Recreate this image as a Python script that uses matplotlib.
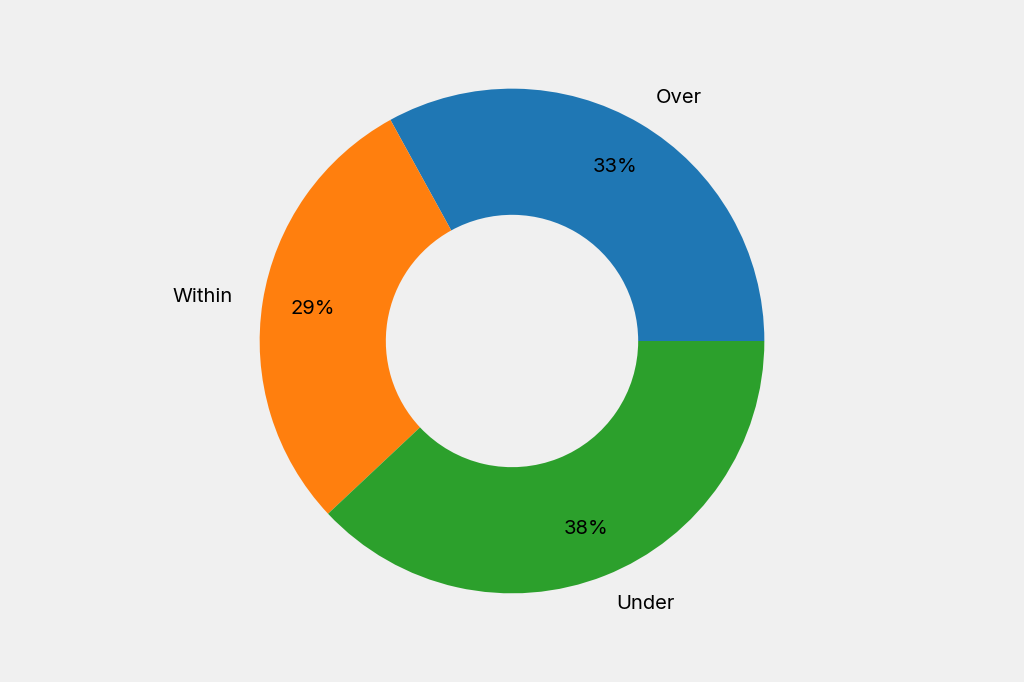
import matplotlib.pyplot as plt

labels = ["Over", "Within", "Under"]
shares = [33, 29, 38]
colors = ["#1f77b4", "#ff7f0e", "#2ca02c"]

plt.rcParams['font.family'] = ['Inter', 'DejaVu Sans']

fig = plt.figure(figsize=(10.24, 6.82), dpi=100, facecolor="#f0f0f0")
ax = fig.add_axes([0.0375, 0.0375, 0.925, 0.925])
ax.set_facecolor("#f0f0f0")
ax.pie(shares, labels=labels, colors=colors, autopct="%d%%", startangle=0,
       pctdistance=0.8, labeldistance=1.12,
       wedgeprops=dict(width=0.5), textprops=dict(fontsize=14.5))
ax.set_aspect("equal")
fig.savefig("out.png", facecolor=fig.get_facecolor())
